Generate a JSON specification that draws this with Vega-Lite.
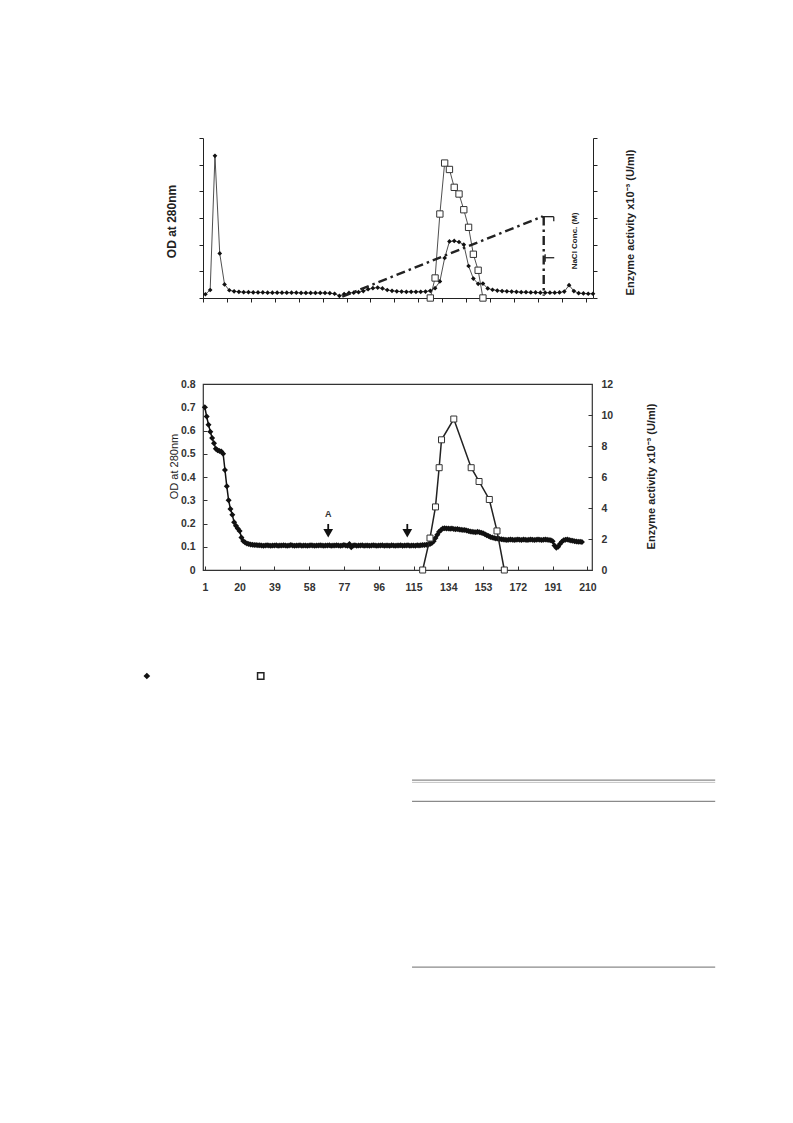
{
  "$schema": "https://vega.github.io/schema/vega-lite/v6.json",
  "padding": {"left": 143, "top": 137, "right": 5, "bottom": 5},
  "autosize": {"type": "pad"},
  "bounds": "flush",
  "spacing": 86,
  "background": "white",
  "config": {
    "font": "Liberation Sans",
    "view": {"stroke": null},
    "axis": {"grid": false, "domainColor": "#222", "tickColor": "#222", "labelFont": "Liberation Sans", "titleFont": "Liberation Sans"}
  },
  "datasets": {
    "topOD": [
      {"n":1,"v":0.14},{"n":2,"v":0.30},{"n":3,"v":5.33},{"n":4,"v":1.67},{"n":5,"v":0.51},{"n":6,"v":0.29},{"n":7,"v":0.25},{"n":8,"v":0.23},{"n":9,"v":0.22},{"n":10,"v":0.22},
      {"n":11,"v":0.21},{"n":12,"v":0.21},{"n":13,"v":0.21},{"n":14,"v":0.2},{"n":15,"v":0.2},{"n":16,"v":0.2},{"n":17,"v":0.2},{"n":18,"v":0.2},{"n":19,"v":0.2},{"n":20,"v":0.2},
      {"n":21,"v":0.19},{"n":22,"v":0.19},{"n":23,"v":0.19},{"n":24,"v":0.19},{"n":25,"v":0.19},{"n":26,"v":0.19},{"n":27,"v":0.18},{"n":28,"v":0.16},{"n":29,"v":0.08},{"n":30,"v":0.15},
      {"n":31,"v":0.19},{"n":32,"v":0.2},{"n":33,"v":0.22},{"n":34,"v":0.26},{"n":35,"v":0.33},{"n":36,"v":0.37},{"n":37,"v":0.39},{"n":38,"v":0.36},{"n":39,"v":0.3},{"n":40,"v":0.27},
      {"n":41,"v":0.25},{"n":42,"v":0.24},{"n":43,"v":0.23},{"n":44,"v":0.23},{"n":45,"v":0.23},{"n":46,"v":0.23},{"n":47,"v":0.24},{"n":48,"v":0.27},{"n":49,"v":0.37},{"n":50,"v":0.62},
      {"n":51,"v":1.5},{"n":52,"v":2.12},{"n":53,"v":2.14},{"n":54,"v":2.1},{"n":55,"v":2.0},{"n":56,"v":1.2},{"n":57,"v":0.73},{"n":58,"v":0.53},{"n":59,"v":0.54},{"n":60,"v":0.36},
      {"n":61,"v":0.31},{"n":62,"v":0.28},{"n":63,"v":0.26},{"n":64,"v":0.25},{"n":65,"v":0.24},{"n":66,"v":0.23},{"n":67,"v":0.22},{"n":68,"v":0.22},{"n":69,"v":0.21},{"n":70,"v":0.21},
      {"n":71,"v":0.2},{"n":72,"v":0.2},{"n":73,"v":0.2},{"n":74,"v":0.2},{"n":75,"v":0.21},{"n":76,"v":0.24},{"n":77,"v":0.48},{"n":78,"v":0.26},{"n":79,"v":0.18},{"n":80,"v":0.17},
      {"n":81,"v":0.16},{"n":82,"v":0.16}
    ],
    "topEnz": [
      {"n":48,"enz":0},{"n":49,"enz":0.75},{"n":50,"enz":3.15},{"n":51,"enz":5.06},{"n":52,"enz":4.82},{"n":53,"enz":4.15},
      {"n":54,"enz":3.9},{"n":55,"enz":3.31},{"n":56,"enz":2.65},{"n":57,"enz":1.64},{"n":58,"enz":1.04},{"n":59,"enz":0}
    ],
    "topDash": [
      {"n":29.6,"v":0.05,"n2":71.5,"v2":3.06},
      {"n":71.7,"v":3.06,"n2":71.7,"v2":0.08}
    ],
    "topBracket": [
      {"n":71.1,"v":3.05,"n2":73.8,"v2":3.05},
      {"n":73.8,"v":3.05,"n2":73.8,"v2":2.88},
      {"n":72.0,"v":1.64,"n2":72.0,"v2":1.36},
      {"n":72.0,"v":1.51,"n2":73.9,"v2":1.51}
    ],
    "topText": [{"n": 78.2, "v": 2.14, "label": "NaCl Conc. (M)"}],
    "botOD": [
      {"f":1,"od":0.700},{"f":2,"od":0.660},{"f":3,"od":0.625},{"f":4,"od":0.595},{"f":5,"od":0.568},{"f":6,"od":0.545},{"f":7,"od":0.522},{"f":8,"od":0.515},{"f":9,"od":0.512},{"f":10,"od":0.510},
      {"f":11,"od":0.500},{"f":12,"od":0.430},{"f":13,"od":0.360},{"f":14,"od":0.300},{"f":15,"od":0.262},{"f":16,"od":0.238},{"f":17,"od":0.205},{"f":18,"od":0.190},{"f":19,"od":0.178},{"f":20,"od":0.168},
      {"f":21,"od":0.140},{"f":22,"od":0.125},{"f":23,"od":0.118},{"f":24,"od":0.114},{"f":25,"od":0.112},{"f":26,"od":0.110},{"f":27,"od":0.109},{"f":28,"od":0.108},{"f":29,"od":0.107},{"f":30,"od":0.106},
      {"f":31,"od":0.106},{"f":32,"od":0.105},{"f":33,"od":0.104},{"f":34,"od":0.105},{"f":35,"od":0.106},{"f":36,"od":0.105},{"f":37,"od":0.104},{"f":38,"od":0.105},{"f":39,"od":0.105},{"f":40,"od":0.106},
      {"f":41,"od":0.104},{"f":42,"od":0.105},{"f":43,"od":0.105},{"f":44,"od":0.106},{"f":45,"od":0.105},{"f":46,"od":0.104},{"f":47,"od":0.105},{"f":48,"od":0.107},{"f":49,"od":0.105},{"f":50,"od":0.104},
      {"f":51,"od":0.105},{"f":52,"od":0.105},{"f":53,"od":0.106},{"f":54,"od":0.104},{"f":55,"od":0.105},{"f":56,"od":0.105},{"f":57,"od":0.104},{"f":58,"od":0.105},{"f":59,"od":0.106},{"f":60,"od":0.105},
      {"f":61,"od":0.104},{"f":62,"od":0.105},{"f":63,"od":0.105},{"f":64,"od":0.106},{"f":65,"od":0.105},{"f":66,"od":0.104},{"f":67,"od":0.105},{"f":68,"od":0.105},{"f":69,"od":0.106},{"f":70,"od":0.104},
      {"f":71,"od":0.105},{"f":72,"od":0.105},{"f":73,"od":0.106},{"f":74,"od":0.105},{"f":75,"od":0.104},{"f":76,"od":0.105},{"f":77,"od":0.107},{"f":78,"od":0.105},{"f":79,"od":0.104},{"f":80,"od":0.112},
      {"f":81,"od":0.098},{"f":82,"od":0.105},{"f":83,"od":0.106},{"f":84,"od":0.104},{"f":85,"od":0.105},{"f":86,"od":0.105},{"f":87,"od":0.106},{"f":88,"od":0.104},{"f":89,"od":0.105},{"f":90,"od":0.105},
      {"f":91,"od":0.104},{"f":92,"od":0.105},{"f":93,"od":0.106},{"f":94,"od":0.105},{"f":95,"od":0.104},{"f":96,"od":0.105},{"f":97,"od":0.105},{"f":98,"od":0.106},{"f":99,"od":0.104},{"f":100,"od":0.105},
      {"f":101,"od":0.105},{"f":102,"od":0.104},{"f":103,"od":0.106},{"f":104,"od":0.105},{"f":105,"od":0.104},{"f":106,"od":0.105},{"f":107,"od":0.105},{"f":108,"od":0.106},{"f":109,"od":0.104},{"f":110,"od":0.105},
      {"f":111,"od":0.105},{"f":112,"od":0.106},{"f":113,"od":0.104},{"f":114,"od":0.105},{"f":115,"od":0.105},{"f":116,"od":0.104},{"f":117,"od":0.106},{"f":118,"od":0.105},{"f":119,"od":0.106},{"f":120,"od":0.107},
      {"f":121,"od":0.108},{"f":122,"od":0.109},{"f":123,"od":0.110},{"f":124,"od":0.112},{"f":125,"od":0.116},{"f":126,"od":0.124},{"f":127,"od":0.138},{"f":128,"od":0.152},{"f":129,"od":0.164},{"f":130,"od":0.172},
      {"f":131,"od":0.178},{"f":132,"od":0.180},{"f":133,"od":0.179},{"f":134,"od":0.178},{"f":135,"od":0.177},{"f":136,"od":0.178},{"f":137,"od":0.176},{"f":138,"od":0.175},{"f":139,"od":0.176},{"f":140,"od":0.174},
      {"f":141,"od":0.173},{"f":142,"od":0.172},{"f":143,"od":0.172},{"f":144,"od":0.170},{"f":145,"od":0.168},{"f":146,"od":0.166},{"f":147,"od":0.165},{"f":148,"od":0.163},{"f":149,"od":0.162},{"f":150,"od":0.164},
      {"f":151,"od":0.162},{"f":152,"od":0.160},{"f":153,"od":0.158},{"f":154,"od":0.154},{"f":155,"od":0.150},{"f":156,"od":0.146},{"f":157,"od":0.142},{"f":158,"od":0.140},{"f":159,"od":0.138},{"f":160,"od":0.136},
      {"f":161,"od":0.135},{"f":162,"od":0.133},{"f":163,"od":0.132},{"f":164,"od":0.131},{"f":165,"od":0.130},{"f":166,"od":0.129},{"f":167,"od":0.130},{"f":168,"od":0.131},{"f":169,"od":0.130},{"f":170,"od":0.129},
      {"f":171,"od":0.130},{"f":172,"od":0.131},{"f":173,"od":0.130},{"f":174,"od":0.129},{"f":175,"od":0.131},{"f":176,"od":0.130},{"f":177,"od":0.129},{"f":178,"od":0.130},{"f":179,"od":0.131},{"f":180,"od":0.130},
      {"f":181,"od":0.129},{"f":182,"od":0.130},{"f":183,"od":0.131},{"f":184,"od":0.130},{"f":185,"od":0.129},{"f":186,"od":0.130},{"f":187,"od":0.131},{"f":188,"od":0.130},{"f":189,"od":0.129},{"f":190,"od":0.128},
      {"f":191,"od":0.124},{"f":192,"od":0.105},{"f":193,"od":0.096},{"f":194,"od":0.100},{"f":195,"od":0.112},{"f":196,"od":0.122},{"f":197,"od":0.128},{"f":198,"od":0.130},{"f":199,"od":0.131},{"f":200,"od":0.129},
      {"f":201,"od":0.127},{"f":202,"od":0.126},{"f":203,"od":0.124},{"f":204,"od":0.123},{"f":205,"od":0.122},{"f":206,"od":0.121},{"f":207,"od":0.120}
    ],
    "botEnz": [
      {"f":120,"enz":0},{"f":124,"enz":2.06},{"f":127,"enz":4.07},{"f":129,"enz":6.6},{"f":130.3,"enz":8.4},{"f":137,"enz":9.74},
      {"f":146.5,"enz":6.6},{"f":150.8,"enz":5.71},{"f":156.4,"enz":4.55},{"f":160.6,"enz":2.52},{"f":164.6,"enz":0}
    ],
    "arrows": [{"f":68.4,"od":0.158},{"f":111.6,"od":0.158}],
    "stems": [{"f":68.4,"od":0.198,"od2":0.168},{"f":111.6,"od":0.198,"od2":0.168}],
    "arrowLabel": [{"f":68.4,"od":0.243,"label":"A"}],
    "legDiamond": [{"px":-10.8,"py":6.25}],
    "legSquare": [{"px":11.1,"py":6.25}],
    "tableDark": [{"px":40.2,"px2":98.5,"py":38.8},{"px":40.2,"px2":98.5,"py":45.4},{"px":40.2,"px2":98.5,"py":97.2}],
    "tableLight": [{"px":40.2,"px2":98.5,"py":39.5}]
  },
  "vconcat": [
    {
      "width": 390,
      "height": 160,
      "layer": [
        {
          "layer": [
            {
              "data": {"name": "topOD"},
              "mark": {"type": "line", "color": "#222", "strokeWidth": 0.8, "point": {"shape": "diamond", "size": 22, "filled": true, "color": "#111"}},
              "encoding": {
                "x": {"field": "n", "type": "quantitative", "scale": {"domain": [0.5, 82.0], "nice": false, "zero": false},
                      "axis": {"values": [0.5,5.5,10.5,15.5,20.5,25.5,30.5,35.5,40.5,45.5,50.5,55.5,60.5,65.5,70.5,75.5,80.5], "labels": false, "tickSize": 4, "title": null, "domainWidth": 1}},
                "y": {"field": "v", "type": "quantitative", "scale": {"domain": [0, 6], "nice": false},
                      "axis": {"values": [0,1,2,3,4,5,6], "labels": false, "tickSize": 4, "domainWidth": 1, "title": "OD at 280nm", "titleFontSize": 12, "titleFontWeight": "bold", "titleColor": "#222", "titleX": -28, "titleY": 83, "titleBaseline": "alphabetic", "titleAngle": 270}}
              }
            },
            {
              "data": {"name": "topDash"},
              "mark": {"type": "rule", "strokeWidth": 2.4, "strokeDash": [9, 4, 2.5, 4], "color": "#222"},
              "encoding": {
                "x": {"field": "n", "type": "quantitative", "scale": {"domain": [0.5, 82.0], "nice": false, "zero": false},
                      "axis": {"values": [0.5,5.5,10.5,15.5,20.5,25.5,30.5,35.5,40.5,45.5,50.5,55.5,60.5,65.5,70.5,75.5,80.5], "labels": false, "tickSize": 4, "title": null, "domainWidth": 1}},
                "x2": {"field": "n2"},
                "y": {"field": "v", "type": "quantitative", "scale": {"domain": [0, 6], "nice": false},
                      "axis": {"values": [0,1,2,3,4,5,6], "labels": false, "tickSize": 4, "domainWidth": 1, "title": "OD at 280nm", "titleFontSize": 12, "titleFontWeight": "bold", "titleColor": "#222", "titleX": -28, "titleY": 83, "titleBaseline": "alphabetic", "titleAngle": 270}},
                "y2": {"field": "v2"}
              }
            },
            {
              "data": {"name": "topBracket"},
              "mark": {"type": "rule", "strokeWidth": 1.3, "color": "#222"},
              "encoding": {
                "x": {"field": "n", "type": "quantitative", "scale": {"domain": [0.5, 82.0], "nice": false, "zero": false},
                      "axis": {"values": [0.5,5.5,10.5,15.5,20.5,25.5,30.5,35.5,40.5,45.5,50.5,55.5,60.5,65.5,70.5,75.5,80.5], "labels": false, "tickSize": 4, "title": null, "domainWidth": 1}},
                "x2": {"field": "n2"},
                "y": {"field": "v", "type": "quantitative", "scale": {"domain": [0, 6], "nice": false},
                      "axis": {"values": [0,1,2,3,4,5,6], "labels": false, "tickSize": 4, "domainWidth": 1, "title": "OD at 280nm", "titleFontSize": 12, "titleFontWeight": "bold", "titleColor": "#222", "titleX": -28, "titleY": 83, "titleBaseline": "alphabetic", "titleAngle": 270}},
                "y2": {"field": "v2"}
              }
            },
            {
              "data": {"name": "topText"},
              "mark": {"type": "text", "angle": 270, "fontSize": 8, "fontWeight": "bold", "color": "#222", "align": "center", "baseline": "middle"},
              "encoding": {
                "x": {"field": "n", "type": "quantitative", "scale": {"domain": [0.5, 82.0], "nice": false, "zero": false},
                      "axis": {"values": [0.5,5.5,10.5,15.5,20.5,25.5,30.5,35.5,40.5,45.5,50.5,55.5,60.5,65.5,70.5,75.5,80.5], "labels": false, "tickSize": 4, "title": null, "domainWidth": 1}},
                "y": {"field": "v", "type": "quantitative", "scale": {"domain": [0, 6], "nice": false},
                      "axis": {"values": [0,1,2,3,4,5,6], "labels": false, "tickSize": 4, "domainWidth": 1, "title": "OD at 280nm", "titleFontSize": 12, "titleFontWeight": "bold", "titleColor": "#222", "titleX": -28, "titleY": 83, "titleBaseline": "alphabetic", "titleAngle": 270}},
                "text": {"field": "label"}
              }
            }
          ]
        },
        {
          "data": {"name": "topEnz"},
          "mark": {"type": "line", "color": "#222", "strokeWidth": 0.8, "point": {"shape": "square", "size": 40, "filled": true, "fill": "white", "stroke": "#333", "strokeWidth": 1}},
          "encoding": {
            "x": {"field": "n", "type": "quantitative", "scale": {"domain": [0.5, 82.0], "nice": false, "zero": false},
                  "axis": {"values": [0.5,5.5,10.5,15.5,20.5,25.5,30.5,35.5,40.5,45.5,50.5,55.5,60.5,65.5,70.5,75.5,80.5], "labels": false, "tickSize": 4, "title": null, "domainWidth": 1}},
            "y": {"field": "enz", "type": "quantitative", "scale": {"domain": [0, 6], "nice": false},
                  "axis": {"orient": "right", "values": [0,1,2,3,4,5,6], "labels": false, "tickSize": 4, "domainWidth": 1, "title": "Enzyme activity x10⁻³ (U/ml)", "titleFontSize": 11, "titleFontWeight": "bold", "titleColor": "#222", "titleAngle": 270, "titleX": 40, "titleY": 84, "titleBaseline": "alphabetic"}}
          }
        }
      ],
      "resolve": {"scale": {"y": "independent"}}
    },
    {
      "width": 389,
      "height": 186,
      "view": {"stroke": "#333", "strokeWidth": 1.2},
      "layer": [
        {
          "layer": [
            {
              "data": {"name": "botOD"},
              "mark": {"type": "line", "color": "#111", "strokeWidth": 1.5, "point": {"shape": "diamond", "size": 36, "filled": true, "color": "#111"}},
              "encoding": {
                "x": {"field": "f", "type": "quantitative", "scale": {"domain": [0, 212.5], "nice": false, "zero": false},
                      "axis": {"values": [1,20,39,58,77,96,115,134,153,172,191,210], "labelOverlap": false, "domain": false, "tickSize": -4, "tickColor": "#333", "labelPadding": 16, "labelFontSize": 10.5, "labelFontWeight": "bold", "labelColor": "#333", "title": null}},
                "y": {"field": "od", "type": "quantitative", "scale": {"domain": [0, 0.8], "nice": false},
                      "axis": {"values": [0,0.1,0.2,0.3,0.4,0.5,0.6,0.7,0.8], "labelOverlap": false, "labelExpr": "datum.value == 0 ? '0' : format(datum.value, '.1f')", "domain": false, "tickSize": -4, "tickColor": "#333", "labelPadding": 12, "labelFontSize": 10.5, "labelFontWeight": "bold", "labelColor": "#333",
                               "title": "OD at 280nm", "titleFontSize": 11, "titleFontWeight": "normal", "titleColor": "#222", "titleX": -26, "titleY": 82, "titleBaseline": "alphabetic", "titleAngle": 270}}
              }
            },
            {
              "data": {"name": "stems"},
              "mark": {"type": "rule", "strokeWidth": 1.8, "color": "#111"},
              "encoding": {
                "x": {"field": "f", "type": "quantitative", "scale": {"domain": [0, 212.5], "nice": false, "zero": false},
                      "axis": {"values": [1,20,39,58,77,96,115,134,153,172,191,210], "labelOverlap": false, "domain": false, "tickSize": -4, "tickColor": "#333", "labelPadding": 16, "labelFontSize": 10.5, "labelFontWeight": "bold", "labelColor": "#333", "title": null}},
                "y": {"field": "od", "type": "quantitative", "scale": {"domain": [0, 0.8], "nice": false},
                      "axis": {"values": [0,0.1,0.2,0.3,0.4,0.5,0.6,0.7,0.8], "labelOverlap": false, "labelExpr": "datum.value == 0 ? '0' : format(datum.value, '.1f')", "domain": false, "tickSize": -4, "tickColor": "#333", "labelPadding": 12, "labelFontSize": 10.5, "labelFontWeight": "bold", "labelColor": "#333",
                               "title": "OD at 280nm", "titleFontSize": 11, "titleFontWeight": "normal", "titleColor": "#222", "titleX": -26, "titleY": 82, "titleBaseline": "alphabetic", "titleAngle": 270}},
                "y2": {"field": "od2"}
              }
            },
            {
              "data": {"name": "arrows"},
              "mark": {"type": "point", "shape": "triangle-down", "size": 95, "filled": true, "color": "#111", "opacity": 1},
              "encoding": {
                "x": {"field": "f", "type": "quantitative", "scale": {"domain": [0, 212.5], "nice": false, "zero": false},
                      "axis": {"values": [1,20,39,58,77,96,115,134,153,172,191,210], "labelOverlap": false, "domain": false, "tickSize": -4, "tickColor": "#333", "labelPadding": 16, "labelFontSize": 10.5, "labelFontWeight": "bold", "labelColor": "#333", "title": null}},
                "y": {"field": "od", "type": "quantitative", "scale": {"domain": [0, 0.8], "nice": false},
                      "axis": {"values": [0,0.1,0.2,0.3,0.4,0.5,0.6,0.7,0.8], "labelOverlap": false, "labelExpr": "datum.value == 0 ? '0' : format(datum.value, '.1f')", "domain": false, "tickSize": -4, "tickColor": "#333", "labelPadding": 12, "labelFontSize": 10.5, "labelFontWeight": "bold", "labelColor": "#333",
                               "title": "OD at 280nm", "titleFontSize": 11, "titleFontWeight": "normal", "titleColor": "#222", "titleX": -26, "titleY": 82, "titleBaseline": "alphabetic", "titleAngle": 270}}
              }
            },
            {
              "data": {"name": "arrowLabel"},
              "mark": {"type": "text", "fontSize": 9, "fontWeight": "bold", "color": "#333", "align": "center", "baseline": "middle"},
              "encoding": {
                "x": {"field": "f", "type": "quantitative", "scale": {"domain": [0, 212.5], "nice": false, "zero": false},
                      "axis": {"values": [1,20,39,58,77,96,115,134,153,172,191,210], "labelOverlap": false, "domain": false, "tickSize": -4, "tickColor": "#333", "labelPadding": 16, "labelFontSize": 10.5, "labelFontWeight": "bold", "labelColor": "#333", "title": null}},
                "y": {"field": "od", "type": "quantitative", "scale": {"domain": [0, 0.8], "nice": false},
                      "axis": {"values": [0,0.1,0.2,0.3,0.4,0.5,0.6,0.7,0.8], "labelOverlap": false, "labelExpr": "datum.value == 0 ? '0' : format(datum.value, '.1f')", "domain": false, "tickSize": -4, "tickColor": "#333", "labelPadding": 12, "labelFontSize": 10.5, "labelFontWeight": "bold", "labelColor": "#333",
                               "title": "OD at 280nm", "titleFontSize": 11, "titleFontWeight": "normal", "titleColor": "#222", "titleX": -26, "titleY": 82, "titleBaseline": "alphabetic", "titleAngle": 270}},
                "text": {"field": "label"}
              }
            }
          ]
        },
        {
          "data": {"name": "botEnz"},
          "mark": {"type": "line", "color": "#222", "strokeWidth": 1.5, "point": {"shape": "square", "size": 36, "filled": true, "fill": "white", "stroke": "#333", "strokeWidth": 1}},
          "encoding": {
            "x": {"field": "f", "type": "quantitative", "scale": {"domain": [0, 212.5], "nice": false, "zero": false},
                  "axis": {"values": [1,20,39,58,77,96,115,134,153,172,191,210], "labelOverlap": false, "domain": false, "tickSize": -4, "tickColor": "#333", "labelPadding": 16, "labelFontSize": 10.5, "labelFontWeight": "bold", "labelColor": "#333", "title": null}},
            "y": {"field": "enz", "type": "quantitative", "scale": {"domain": [0, 12], "nice": false},
                  "axis": {"orient": "right", "values": [0,2,4,6,8,10,12], "labelOverlap": false, "domain": false, "tickSize": -4, "tickColor": "#333", "labelPadding": 13, "labelFontSize": 10.5, "labelFontWeight": "bold", "labelColor": "#333",
                           "title": "Enzyme activity x10⁻³ (U/ml)", "titleFontSize": 11, "titleFontWeight": "bold", "titleColor": "#222", "titleAngle": 270, "titleX": 62, "titleY": 92, "titleBaseline": "alphabetic"}}
          }
        }
      ],
      "resolve": {"scale": {"y": "independent"}}
    },
    {
      "width": 520,
      "height": 320,
      "layer": [
        {
          "data": {"name": "tableDark"},
          "mark": {"type": "rule", "color": "#8a8a8a", "strokeWidth": 1.3},
          "encoding": {
            "x": {"field": "px", "type": "quantitative", "scale": {"domain": [0, 100], "nice": false, "zero": false}, "axis": null},
            "x2": {"field": "px2"},
            "y": {"field": "py", "type": "quantitative", "scale": {"domain": [0, 100], "nice": false, "reverse": true}, "axis": null}
          }
        },
        {
          "data": {"name": "tableLight"},
          "mark": {"type": "rule", "color": "#c4c4c4", "strokeWidth": 1},
          "encoding": {
            "x": {"field": "px", "type": "quantitative", "scale": {"domain": [0, 100], "nice": false, "zero": false}, "axis": null},
            "x2": {"field": "px2"},
            "y": {"field": "py", "type": "quantitative", "scale": {"domain": [0, 100], "nice": false, "reverse": true}, "axis": null}
          }
        },
        {
          "data": {"name": "legDiamond"},
          "mark": {"type": "point", "shape": "diamond", "size": 45, "filled": true, "color": "#111", "opacity": 1},
          "encoding": {
            "x": {"field": "px", "type": "quantitative", "scale": {"domain": [0, 100], "nice": false, "zero": false}, "axis": null},
            "y": {"field": "py", "type": "quantitative", "scale": {"domain": [0, 100], "nice": false, "reverse": true}, "axis": null}
          }
        },
        {
          "data": {"name": "legSquare"},
          "mark": {"type": "point", "shape": "square", "size": 40, "filled": true, "fill": "white", "stroke": "#222", "strokeWidth": 1.5, "opacity": 1},
          "encoding": {
            "x": {"field": "px", "type": "quantitative", "scale": {"domain": [0, 100], "nice": false, "zero": false}, "axis": null},
            "y": {"field": "py", "type": "quantitative", "scale": {"domain": [0, 100], "nice": false, "reverse": true}, "axis": null}
          }
        }
      ]
    }
  ]
}
